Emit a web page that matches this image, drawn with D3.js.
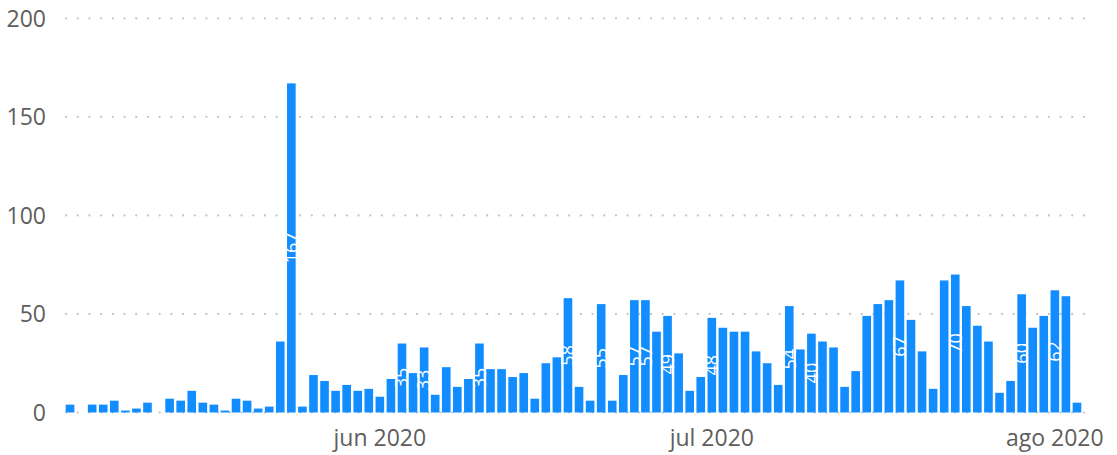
<!DOCTYPE html>
<html>
<head>
<meta charset="utf-8">
<script src="https://cdn.jsdelivr.net/npm/d3@7"></script>
<style>
  html, body { margin: 0; padding: 0; background: #fff; }
  svg { display: block; }
</style>
</head>
<body>
<div id="chart"></div>
<script>
// ---------- data ----------
var firstDay = "2020-05-04", lastDay = "2020-08-03";
var values = [4,0,4,4,6,1,2,5,0,7,6,11,5,4,1,7,6,2,3,36,
              167,3,19,16,11,14,11,12,8,17,
              35,20,33,9,23,13,17,35,22,22,
              18,20,7,25,28,58,13,6,55,6,
              19,57,57,41,49,30,11,18,48,43,
              41,41,31,25,14,54,32,40,36,33,
              13,21,49,55,57,67,47,31,12,67,
              70,54,44,36,10,16,60,43,49,62,59,5];
// days whose data label is shown
var labelDays = ["2020-05-24","2020-06-03","2020-06-05","2020-06-10","2020-06-18","2020-06-21",
                 "2020-06-24","2020-06-25","2020-06-27","2020-07-01","2020-07-08","2020-07-10",
                 "2020-07-18","2020-07-23","2020-07-29","2020-08-01"];
var yTicks = [0, 50, 100, 150, 200];
var xTickDays = ["2020-06-01", "2020-07-01", "2020-08-01"];
var xTickLabels = ["jun 2020", "jul 2020", "ago 2020"];

// ---------- setup ----------
var width = 1117, height = 455;
var parse = d3.timeParse("%Y-%m-%d");
var fmt = d3.timeFormat("%Y-%m-%d");
var days = d3.timeDay.range(parse(firstDay), d3.timeDay.offset(parse(lastDay), 1));
var data = days.map(function(d, i) { return {day: d, value: values[i], key: fmt(d)}; });

var svg = d3.select("#chart").append("svg")
    .attr("width", width)
    .attr("height", height);

var font = "'Segoe UI', 'Open Sans', 'Noto Sans', sans-serif";

var x_scale = d3.scaleTime()
    .domain([d3.timeHour.offset(days[0], -12), d3.timeHour.offset(days[days.length - 1], 12)])
    .range([64.5, 1082.5]);
var slot = x_scale(days[1]) - x_scale(days[0]);
var barW = slot * 0.78;

var y_scale = d3.scaleLinear()
    .domain([0, 200])
    .range([412.5, 18.3]);

// ---------- grid ----------
svg.append("g").selectAll(".grid")
    .data(yTicks)
    .enter().append("line")
    .attr("class", "grid")
    .attr("x1", 66).attr("x2", 1084)
    .attr("y1", function(d) { return y_scale(d); })
    .attr("y2", function(d) { return y_scale(d); })
    .attr("stroke", "#c4c4c4")
    .attr("stroke-width", 2.2)
    .attr("stroke-linecap", "round")
    .attr("stroke-dasharray", "0.1 11.6");

// ---------- y labels ----------
svg.append("g").selectAll(".ylab")
    .data(yTicks)
    .enter().append("text")
    .attr("x", 46)
    .attr("y", function(d) { return y_scale(d); })
    .attr("dy", "0.36em")
    .attr("text-anchor", "end")
    .attr("fill", "#605e5c")
    .style("font-family", font)
    .style("font-size", "23px")
    .text(function(d) { return d; });

// ---------- x labels ----------
svg.append("g").selectAll(".xlab")
    .data(xTickDays)
    .enter().append("text")
    .attr("x", function(d) { return x_scale(parse(d)); })
    .attr("y", 446)
    .attr("text-anchor", "middle")
    .attr("fill", "#605e5c")
    .style("font-family", font)
    .style("font-size", "23px")
    .text(function(d, i) { return xTickLabels[i]; });

// ---------- bars ----------
svg.append("g").selectAll(".bar")
    .data(data.filter(function(d) { return d.value > 0; }))
    .enter().append("rect")
    .attr("class", "bar")
    .attr("x", function(d) { return x_scale(d.day) - barW / 2; })
    .attr("width", barW)
    .attr("y", function(d) { return y_scale(d.value); })
    .attr("height", function(d) { return y_scale(0) - y_scale(d.value); })
    .attr("fill", "#118dff");

// ---------- data labels ----------
svg.append("g").selectAll(".dlab")
    .data(data.filter(function(d) { return labelDays.indexOf(d.key) >= 0; }))
    .enter().append("text")
    .attr("transform", function(d) {
        var cx = x_scale(d.day), cy = (y_scale(d.value) + y_scale(0)) / 2;
        return "translate(" + cx + "," + cy + ") rotate(-90)";
    })
    .attr("text-anchor", "middle")
    .attr("dy", "0.35em")
    .attr("fill", "#ffffff")
    .style("font-family", font)
    .style("font-size", "18px")
    .text(function(d) { return d.value; });
</script>
</body>
</html>
